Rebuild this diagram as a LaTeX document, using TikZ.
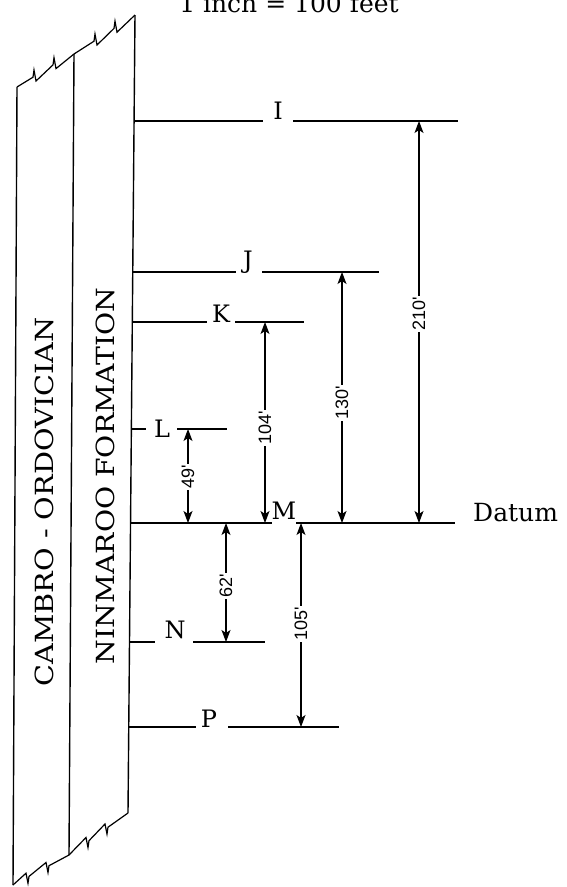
\documentclass[tikz,border=0pt]{standalone}
\usepackage{fontspec}
\setmainfont{DejaVu Serif}
\newfontfamily\numfont{Liberation Sans}
\usetikzlibrary{arrows.meta}
\tikzset{
  strip/.style={line width=1.4pt, line join=miter},
  level/.style={line width=1.1pt},
  dim/.style={line width=1.1pt, {Stealth[length=12pt,width=9pt,inset=3pt]}-{Stealth[length=12pt,width=9pt,inset=3pt]}},
  lbl/.style={font=\fontsize{24}{24}\selectfont, inner sep=0pt, anchor=base},
  dimlbl/.style={font=\numfont\fontsize{18}{18}\selectfont, rotate=90, fill=white, inner sep=1.5pt},
  striptext/.style={font=\fontsize{25}{25}\selectfont, rotate=90, inner sep=0pt}
}
\begin{document}
\begin{tikzpicture}[x=1pt,y=-1pt]
\useasboundingbox (0,0) rectangle (566,887);
\clip (0,0) rectangle (566,887);

% title (cut off at top, as in the original)
\node[font=\fontsize{25}{25}\selectfont, anchor=base, inner sep=0pt] (title) at (289,12) {1 inch = 100 feet};

% strip corners
\coordinate (lt) at (17,87);
\coordinate (lb) at (13,885);
\coordinate (mt) at (74,54);
\coordinate (mb) at (69,855);
\coordinate (rt) at (135,15);
\coordinate (rb) at (128,813);

% vertical strip lines
\draw[strip] (lt) -- (lb);
\draw[strip] (mt) -- (mb);
\draw[strip] (rt) -- (rb);

% top broken edge
\draw[strip, line width=1.2pt] (lt) -- (33,77.2) -- (34,70) -- (36,81) -- (53,64.9) -- (54,57.7) -- (56,68.6) -- (mt)
  -- (94,41.2) -- (95,34) -- (97,45) -- (114,28.4) -- (115,21.2) -- (117,32.2) -- (rt);
% bottom broken edge
\draw[strip, line width=1.2pt] (rb) -- (108,827.2) -- (107,834) -- (105,824) -- (89,840.7) -- (88,847.5) -- (86,837.5) -- (mb)
  -- (49,865.7) -- (48,872.5) -- (46,862.5) -- (29,876.4) -- (28,883.2) -- (26,873.2) -- (lb);

% formation names
\node[striptext] (cambro) at (44,502) {\scalebox{1.15}[1]{CAMBRO - ORDOVICIAN}};
\node[striptext] (ninmaroo) at (105,476) {\scalebox{1.13}[1]{NINMAROO FORMATION}};

% levels: start on strip, gap for label, end
\coordinate (I0) at (134.1,121); \coordinate (I1) at (458,121);
\coordinate (J0) at (132.7,272); \coordinate (J1) at (379,272);
\coordinate (K0) at (132.3,322); \coordinate (K1) at (304,322);
\coordinate (L0) at (131.4,429); \coordinate (L1) at (227,429);
\coordinate (M0) at (130.5,523); \coordinate (M1) at (455,523);
\coordinate (N0) at (129.5,642); \coordinate (N1) at (265,642);
\coordinate (P0) at (128.8,727); \coordinate (P1) at (339,727);

\draw[level] (I0) -- (263,121) (293,121) -- (I1);
\draw[level] (J0) -- (236,272) (262,272) -- (J1);
\draw[level] (K0) -- (207,322) (235,322) -- (K1);
\draw[level] (L0) -- (146,429) (177,429) -- (L1);
\draw[level] (M0) -- (272,523) (296,523) -- (M1);
\draw[level] (N0) -- (155,642) (193,642) -- (N1);
\draw[level] (P0) -- (196,727) (228,727) -- (P1);

\node[lbl] (lI) at (278,119) {I};
\node[lbl] (lJ) at (248,268) {J};
\node[lbl] (lK) at (221,322) {K};
\node[lbl] (lL) at (162,437) {L};
\node[lbl] (lM) at (284,519) {M};
\node[lbl] (lN) at (175,638) {N};
\node[lbl] (lP) at (209,727) {P};
\node[font=\fontsize{25}{25}\selectfont, inner sep=0pt, anchor=base west] (datum) at (473,521) {Datum};

% dimension arrows
\coordinate (a1t) at (419,121); \coordinate (a1b) at (419,523);
\coordinate (a2t) at (342,272); \coordinate (a2b) at (342,523);
\coordinate (a3t) at (265,322); \coordinate (a3b) at (265,523);
\coordinate (a4t) at (188,429); \coordinate (a4b) at (188,523);
\coordinate (a5t) at (226,523); \coordinate (a5b) at (226,642);
\coordinate (a6t) at (301,523); \coordinate (a6b) at (301,727);

\draw[dim] (a1t) -- (a1b);
\draw[dim] (a2t) -- (a2b);
\draw[dim] (a3t) -- (a3b);
\draw[dim] (a4t) -- (a4b);
\draw[dim] (a5t) -- (a5b);
\draw[dim] (a6t) -- (a6b);

\node[dimlbl] (d210) at (419,314) {210'};
\node[dimlbl] (d130) at (342,403) {130'};
\node[dimlbl] (d104) at (265,428) {104'};
\node[dimlbl] (d49) at (188,477) {49'};
\node[dimlbl] (d62) at (226,586) {62'};
\node[dimlbl] (d105) at (301,624) {105'};
\end{tikzpicture}
\end{document}
